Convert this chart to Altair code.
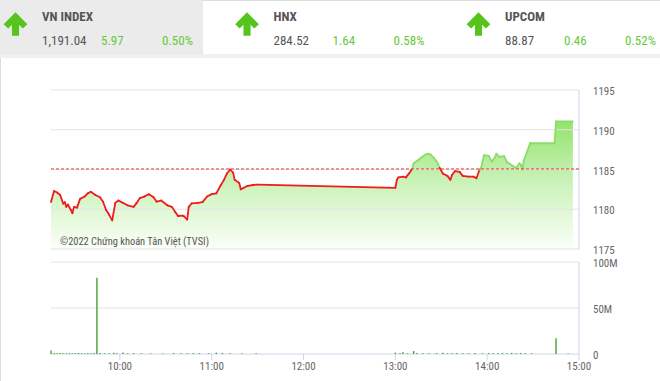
import altair as alt
import pandas as pd

# ---------------- data ----------------
index_names = ["VN INDEX", "HNX", "UPCOM"]
index_close = ["1,191.04", "284.52", "88.87"]
index_change = ["5.97", "1.64", "0.46"]
index_pct = ["0.50%", "0.58%", "0.52%"]

ref_price = 1185.07

am_times = ["09:15","09:17","09:19","09:21","09:23","09:24","09:25","09:26","09:28","09:29",
            "09:30","09:32","09:34","09:37","09:39","09:41","09:44","09:47","09:49","09:51",
            "09:53","09:55","09:57","09:59","10:02","10:05","10:09","10:11","10:13","10:16",
            "10:19","10:22","10:24","10:27","10:31","10:34","10:36","10:38","10:41","10:42",
            "10:44","10:45","10:47","10:51","10:54","10:57","11:00","11:03","11:06","11:08",
            "11:10","11:12","11:14","11:15","11:18","11:19","11:21","11:23","11:27","11:30"]
am_prices = [1180.9,1182.3,1182.1,1181.8,1180.7,1180.9,1180.3,1180.6,1179.9,1179.5,
             1180.3,1180.2,1181.3,1181.6,1182.0,1182.2,1181.8,1181.5,1180.95,1179.9,
             1179.3,1178.6,1180.8,1181.1,1180.8,1180.5,1180.3,1180.8,1181.4,1181.6,
             1181.9,1181.5,1180.95,1181.1,1180.5,1180.3,1179.7,1179.15,1179.2,1179.1,
             1178.7,1180.3,1180.75,1180.8,1180.9,1181.6,1181.9,1182.0,1183.05,1183.7,
             1184.5,1185.0,1184.6,1183.7,1183.3,1182.5,1182.7,1182.9,1183.05,1183.1]

pm_times = ["13:00","13:01","13:02","13:05","13:07","13:08","13:09","13:11","13:12","13:15",
            "13:17","13:19","13:21","13:23","13:25","13:27","13:29","13:31","13:34","13:36",
            "13:37","13:39","13:42","13:44","13:48","13:51","13:53","13:55","13:56","13:58",
            "14:01","14:03","14:05","14:06","14:08","14:11","14:13","14:15","14:17","14:19",
            "14:21","14:22","14:23","14:24","14:26","14:28","14:44","14:45","14:56"]
pm_prices = [1182.7,1183.7,1184.0,1184.1,1184.0,1184.3,1184.5,1185.1,1185.8,1186.2,
             1186.5,1186.8,1187.0,1186.9,1186.5,1186.0,1185.2,1184.5,1184.2,1183.7,
             1184.3,1184.8,1184.7,1184.2,1184.1,1184.1,1183.9,1185.0,1185.2,1186.8,
             1186.7,1186.0,1186.5,1187.0,1186.6,1186.7,1185.9,1185.7,1185.4,1185.2,
             1185.8,1185.6,1185.0,1186.2,1187.2,1188.3,1188.3,1191.04,1191.04]

vol_times = ["09:15","09:17","09:19","09:21","09:23","09:25","09:27","09:29","09:31","09:33",
             "09:35","09:37","09:39","09:41","09:43","09:45","09:47","09:50","09:53","09:56",
             "09:58","10:02","10:05","10:09","10:14","10:20","10:28","10:35","10:40","10:44",
             "10:48","10:52","10:58","11:03","11:07","11:12","11:20","11:29",
             "13:00","13:03","13:05","13:08","13:12","13:14","13:18","13:22","13:27","13:31",
             "13:34","13:37","13:40","13:44","13:48","13:52","13:57","14:01","14:04","14:07",
             "14:10","14:13","14:16","14:19","14:22","14:25","14:29","14:45","14:53"]
vol_values = [3.8,1.0,0.8,1.1,0.9,0.7,1.0,0.8,0.9,1.2,
              0.8,0.7,1.0,0.9,1.1,83.0,1.2,0.9,0.7,1.4,
              0.8,1.6,0.7,0.9,0.8,0.6,0.7,0.9,0.8,0.7,
              0.9,1.0,0.8,1.6,1.2,0.8,0.7,0.9,
              1.5,0.8,1.8,0.9,3.2,1.2,0.8,0.7,1.0,1.4,
              0.8,0.9,1.1,0.8,0.9,1.0,0.8,1.1,0.9,1.0,
              1.2,0.9,1.3,0.8,1.0,0.9,0.8,17.0,0.6]

price_ticks = [1175, 1180, 1185, 1190, 1195]
vol_ticks = [0, 50, 100]
vol_tick_labels = ["0", "50M", "100M"]
time_ticks = ["10:00", "11:00", "12:00", "13:00", "14:00", "15:00"]


def to_h(s):
    h, m = s.split(":")
    return int(h) + int(m) / 60.0


# ---------------- frames ----------------
price_times = am_times + pm_times
prices = am_prices + pm_prices
pdf = pd.DataFrame({"t": [to_h(s) for s in price_times], "p": prices})
seg = pd.DataFrame({
    "t": pdf["t"].values[:-1], "t2": pdf["t"].values[1:],
    "p": pdf["p"].values[:-1], "p2": pdf["p"].values[1:],
})
seg["side"] = ["above" if (a + b) / 2 >= ref_price else "below" for a, b in zip(seg["p"], seg["p2"])]
vdf = pd.DataFrame({"t": [to_h(s) for s in vol_times], "v": vol_values})
ptick = pd.DataFrame({"v": price_ticks, "lbl": [str(v) for v in price_ticks]})
vtick = pd.DataFrame({"v": vol_ticks, "lbl": vol_tick_labels})
ttick = pd.DataFrame({"t": [to_h(s) for s in time_ticks], "lbl": time_ticks})
refdf = pd.DataFrame({"v": [ref_price]})
hdr = pd.DataFrame({"name": index_names, "close": index_close, "chg": index_change,
                    "pct": index_pct, "slot": [0, 1, 2]})
one = pd.DataFrame({"a": [0]})

# ---------------- scales ----------------
X_L, X_R = 51, 579
P_TOP, P_BOT = 90, 249
V_TOP, V_BOT = 262, 354
xs = alt.Scale(domain=[9.25, 15], range=[X_L, X_R], nice=False, zero=False)
ps = alt.Scale(domain=[1175, 1195], range=[P_BOT, P_TOP], nice=False, zero=False)
vs = alt.Scale(domain=[0, 100], range=[V_BOT, V_TOP], nice=False, zero=False)

FONT = "Roboto Condensed, Liberation Sans Narrow, DejaVu Sans Condensed, Roboto"
GRID = "#e3e3e3"
AXIS = "#ccd6eb"
GREEN_TXT = "#66c93a"
ARROW = "#55c41c"

layers = []

# header background
layers.append(alt.Chart(one).mark_rect(color="#f0f0f0").encode(
    x=alt.value(0), x2=alt.value(660), y=alt.value(54), y2=alt.value(58)))
layers.append(alt.Chart(one).mark_rect(color="#ebebeb").encode(
    x=alt.value(0), x2=alt.value(203), y=alt.value(0), y2=alt.value(55)))

arrow_path = "M0,-1 L1,0.02 L0.62,0.38 L0.3,0.06 L0.3,1 L-0.3,1 L-0.3,0.06 L-0.62,0.38 L-1,0.02 Z"
for i in range(3):
    x0 = 42 + 231.5 * i
    base = alt.Chart(hdr).transform_filter(alt.datum.slot == i)
    layers.append(base.mark_point(shape=arrow_path, filled=True, color=ARROW, opacity=1,
                                  size=560, strokeWidth=0).encode(
        x=alt.value(x0 - 26.5), y=alt.value(24)))
    layers.append(base.mark_text(align="left", baseline="middle", font=FONT, fontSize=13,
                                 fontWeight="bold", color="#555555").encode(
        x=alt.value(x0), y=alt.value(17), text="name:N"))
    layers.append(base.mark_text(align="left", baseline="middle", font=FONT, fontSize=13,
                                 color="#555555").encode(
        x=alt.value(x0), y=alt.value(41), text="close:N"))
    layers.append(base.mark_text(align="left", baseline="middle", font=FONT, fontSize=13,
                                 color=GREEN_TXT).encode(
        x=alt.value(x0 + 59), y=alt.value(41), text="chg:N"))
    layers.append(base.mark_text(align="left", baseline="middle", font=FONT, fontSize=13,
                                 color=GREEN_TXT).encode(
        x=alt.value(x0 + 120), y=alt.value(41), text="pct:N"))

# price area
layers.append(alt.Chart(pdf).mark_area(
    color=alt.Gradient(gradient="linear", x1=0, x2=0, y1=0, y2=1,
                       stops=[alt.GradientStop(offset=0, color="#93e46c"),
                              alt.GradientStop(offset=0.45, color="#c9f1b6"),
                              alt.GradientStop(offset=1, color="#fbfff9")]),
    opacity=1, interpolate="linear").encode(
    x=alt.X("t:Q", scale=xs, axis=None),
    y=alt.Y("p:Q", scale=ps, axis=None),
    y2=alt.datum(1175)))

# price grid
layers.append(alt.Chart(ptick).mark_rule(color=GRID, strokeWidth=1).encode(
    y=alt.Y("v:Q", scale=ps, axis=None), x=alt.value(X_L), x2=alt.value(X_R)))
layers.append(alt.Chart(one).mark_rule(color=AXIS, strokeWidth=1).encode(
    x=alt.value(X_R), y=alt.value(P_TOP), y2=alt.value(P_BOT)))

# price line segments
layers.append(alt.Chart(seg).mark_rule(strokeWidth=1.8, strokeCap="round").encode(
    x=alt.X("t:Q", scale=xs, axis=None), x2="t2:Q",
    y=alt.Y("p:Q", scale=ps, axis=None), y2="p2:Q",
    color=alt.Color("side:N", scale=alt.Scale(domain=["above", "below"],
                                               range=["#8ddc68", "#ee1c1c"]), legend=None)))

# reference line
layers.append(alt.Chart(refdf).mark_rule(color="#e23b3b", strokeWidth=1, strokeDash=[3, 2]).encode(
    y=alt.Y("v:Q", scale=ps, axis=None), x=alt.value(X_L), x2=alt.value(X_R)))

# price labels
layers.append(alt.Chart(ptick).mark_text(align="left", baseline="middle", font=FONT, fontSize=11,
                                         color="#666666", dy=2).encode(
    y=alt.Y("v:Q", scale=ps, axis=None), x=alt.value(593), text="lbl:N"))

# copyright
layers.append(alt.Chart(one).mark_text(align="left", baseline="middle", font=FONT, fontSize=10.4,
                                       color="#555555", text="©2022 Chứng khoán Tân Việt (TVSI)").encode(
    x=alt.value(60), y=alt.value(242)))

# volume grid
layers.append(alt.Chart(vtick).transform_filter(alt.datum.v > 0).mark_rule(color=GRID, strokeWidth=1).encode(
    y=alt.Y("v:Q", scale=vs, axis=None), x=alt.value(X_L), x2=alt.value(X_R)))
layers.append(alt.Chart(vtick).transform_filter(alt.datum.v == 0).mark_rule(color=AXIS, strokeWidth=1).encode(
    y=alt.Y("v:Q", scale=vs, axis=None), x=alt.value(X_L), x2=alt.value(X_R)))
layers.append(alt.Chart(one).mark_rule(color=AXIS, strokeWidth=1).encode(
    x=alt.value(X_R), y=alt.value(V_TOP), y2=alt.value(V_BOT)))

# volume bars
layers.append(alt.Chart(vdf).mark_rule(color="#54a63a", strokeWidth=1.5).encode(
    x=alt.X("t:Q", scale=xs, axis=None),
    y=alt.Y("v:Q", scale=vs, axis=None), y2=alt.datum(0)))

# volume labels
layers.append(alt.Chart(vtick).mark_text(align="left", baseline="middle", font=FONT, fontSize=11,
                                         color="#666666", dy=2).encode(
    y=alt.Y("v:Q", scale=vs, axis=None), x=alt.value(593), text="lbl:N"))

# time ticks + labels
layers.append(alt.Chart(ttick).mark_rule(color=AXIS, strokeWidth=1).encode(
    x=alt.X("t:Q", scale=xs, axis=None), y=alt.value(V_BOT), y2=alt.value(V_BOT + 6)))
layers.append(alt.Chart(ttick).mark_text(align="center", baseline="middle", font=FONT, fontSize=11,
                                         color="#666666").encode(
    x=alt.X("t:Q", scale=xs, axis=None), y=alt.value(367), text="lbl:N"))

chart = alt.layer(*layers).resolve_scale(
    x="independent", y="independent", color="independent"
).properties(
    width=660, height=381, padding=0, autosize=alt.AutoSizeParams(type="none")
).configure_view(stroke=None).configure(background="white")

chart.save("out.html", embed_options={"renderer": "svg", "actions": False})
